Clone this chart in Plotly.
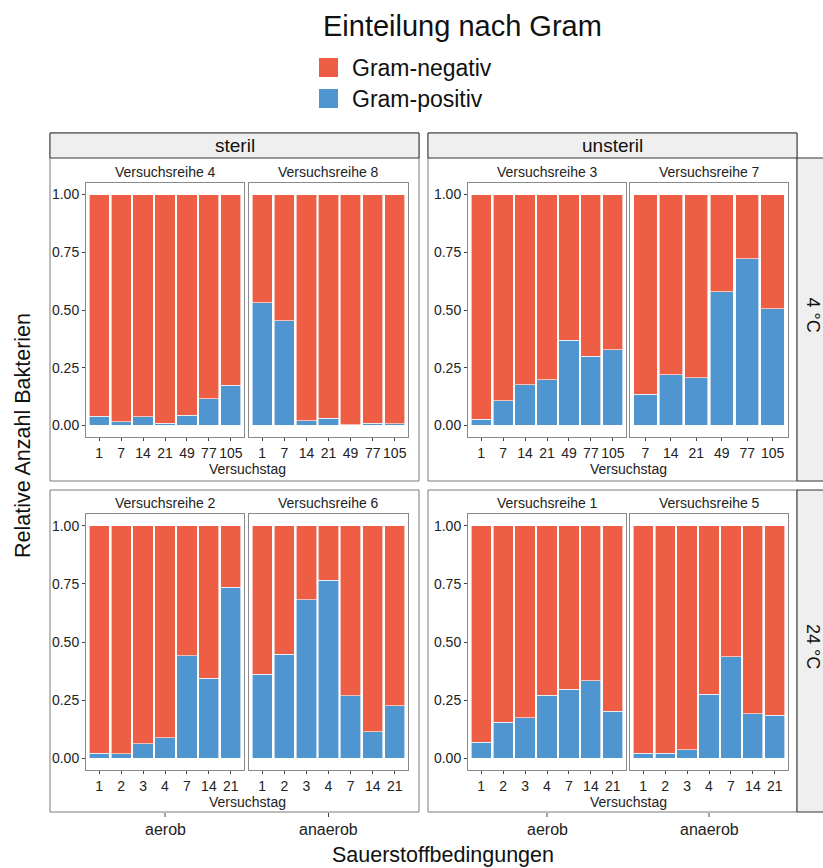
import plotly.graph_objects as go

W, H = 823, 868
RED = "#EE5E44"
BLUE = "#4F95CF"
FONT = "Liberation Sans, Arial, sans-serif"

# ---- data: fraction of Gram-positive bacteria per sampling day ----
days_r4 = ["1", "7", "14", "21", "49", "77", "105"]
pos_r4 = [0.040, 0.017, 0.037, 0.010, 0.044, 0.115, 0.175]
days_r8 = ["1", "7", "14", "21", "49", "77", "105"]
pos_r8 = [0.532, 0.454, 0.021, 0.032, 0.002, 0.010, 0.007]
days_r3 = ["1", "7", "14", "21", "49", "77", "105"]
pos_r3 = [0.026, 0.108, 0.177, 0.197, 0.368, 0.299, 0.328]
days_r7 = ["7", "14", "21", "49", "77", "105"]
pos_r7 = [0.135, 0.219, 0.207, 0.578, 0.721, 0.506]
days_r2 = ["1", "2", "3", "4", "7", "14", "21"]
pos_r2 = [0.021, 0.020, 0.062, 0.089, 0.440, 0.344, 0.735]
days_r6 = ["1", "2", "3", "4", "7", "14", "21"]
pos_r6 = [0.362, 0.448, 0.682, 0.765, 0.269, 0.115, 0.226]
days_r1 = ["1", "2", "3", "4", "7", "14", "21"]
pos_r1 = [0.069, 0.155, 0.175, 0.272, 0.298, 0.334, 0.202]
days_r5 = ["1", "2", "3", "4", "7", "14", "21"]
pos_r5 = [0.021, 0.021, 0.036, 0.275, 0.436, 0.191, 0.186]

panel_titles = ["Versuchsreihe 4", "Versuchsreihe 8", "Versuchsreihe 3", "Versuchsreihe 7",
                "Versuchsreihe 2", "Versuchsreihe 6", "Versuchsreihe 1", "Versuchsreihe 5"]
panel_days = [days_r4, days_r8, days_r3, days_r7, days_r2, days_r6, days_r1, days_r5]
panel_pos = [pos_r4, pos_r8, pos_r3, pos_r7, pos_r2, pos_r6, pos_r1, pos_r5]
y_ticks = [0, 0.25, 0.5, 0.75, 1.0]
y_ticktext = ["0.00", "0.25", "0.50", "0.75", "1.00"]
col_groups = ["steril", "unsteril"]
row_groups = ["4 °C", "24 °C"]
oxygen = ["aerob", "anaerob", "aerob", "anaerob"]
legend_title = "Einteilung nach Gram"
legend_names = ["Gram-negativ", "Gram-positiv"]
legend_colors = [RED, BLUE]

# ---- layout geometry (pixels) ----
col_px = [(86, 244), (249, 408), (468, 626), (630, 788)]
row_px = [(183, 437), (514, 770)]


def fx(p):
    return p / W


def fy(p):
    return 1 - p / H


fig = go.Figure()
layout = dict(
    width=W, height=H, margin=dict(l=0, r=0, t=0, b=0),
    paper_bgcolor="white", plot_bgcolor="white",
    barmode="stack", bargap=0.08,
    font=dict(family=FONT, color="#222"),
    showlegend=False,
)

annotations = []
shapes = []

for i in range(8):
    r, c = divmod(i, 4)
    n = i + 1
    xa = "x" if n == 1 else f"x{n}"
    ya = "y" if n == 1 else f"y{n}"
    days = panel_days[i]
    pos = panel_pos[i]
    neg = [1 - v for v in pos]
    fig.add_trace(go.Bar(x=days, y=pos, name="Gram-positiv",
                         marker=dict(color=BLUE, line=dict(color="white", width=0.6)),
                         xaxis=xa, yaxis=ya,
                         hovertemplate="%{x}: %{y:.2f}<extra>Gram-positiv</extra>"))
    fig.add_trace(go.Bar(x=days, y=neg, name="Gram-negativ",
                         marker=dict(color=RED, line=dict(color="white", width=0.6)),
                         xaxis=xa, yaxis=ya,
                         hovertemplate="%{x}: %{y:.2f}<extra>Gram-negativ</extra>"))
    x0, x1 = col_px[c]
    y0, y1 = row_px[r]
    xkey = "xaxis" if n == 1 else f"xaxis{n}"
    ykey = "yaxis" if n == 1 else f"yaxis{n}"
    layout[xkey] = dict(domain=[fx(x0), fx(x1)], anchor=ya, type="category",
                        range=[-0.6, len(days) - 0.4], showgrid=False, zeroline=False,
                        showline=True, mirror=True, linecolor="#8a8a8a", linewidth=1,
                        ticks="outside", ticklen=3, tickcolor="#444", tickangle=0,
                        tickfont=dict(size=14, color="#222"), fixedrange=True)
    layout[ykey] = dict(domain=[fy(y1), fy(y0)], anchor=xa, range=[-0.05, 1.05],
                        showgrid=False, zeroline=False,
                        showline=True, mirror=True, linecolor="#8a8a8a", linewidth=1,
                        tickvals=y_ticks, ticktext=y_ticktext,
                        ticks="outside" if c in (0, 2) else "", ticklen=3, tickcolor="#444",
                        showticklabels=c in (0, 2),
                        tickfont=dict(size=14, color="#222"), fixedrange=True)
    annotations.append(dict(text=panel_titles[i], x=fx((x0 + x1) / 2), y=fy(y0 - 11),
                            xref="paper", yref="paper", showarrow=False,
                            font=dict(size=14, color="#222"), xanchor="center", yanchor="middle"))

# outer boxes and strips
box_x = [(50, 419), (428, 797)]
box_y = [(133, 481), (490, 812)]
for c in range(2):
    bx0, bx1 = box_x[c]
    for r in range(2):
        by0, by1 = box_y[r]
        shapes.append(dict(type="rect", xref="paper", yref="paper", x0=fx(bx0), x1=fx(bx1),
                           y0=fy(by1), y1=fy(by0), line=dict(color="#7a7a7a", width=1),
                           fillcolor="rgba(0,0,0,0)", layer="below"))
    # column strip
    shapes.append(dict(type="rect", xref="paper", yref="paper", x0=fx(bx0), x1=fx(bx1),
                       y0=fy(158), y1=fy(133), line=dict(color="#333", width=1),
                       fillcolor="#EFEFEF", layer="below"))
    annotations.append(dict(text=col_groups[c], x=fx((bx0 + bx1) / 2), y=fy(145.5), xref="paper", yref="paper",
                            showarrow=False, font=dict(size=19, color="#111"), xanchor="center", yanchor="middle"))
    # Versuchstag labels
    for r, ty in enumerate([469, 802]):
        annotations.append(dict(text="Versuchstag", x=fx((col_px[2 * c][0] + col_px[2 * c + 1][1]) / 2), y=fy(ty),
                                xref="paper", yref="paper", showarrow=False,
                                font=dict(size=14, color="#222"), xanchor="center", yanchor="middle"))

# row strips
row_strip_y = [(158, 481), (490, 812)]
for r in range(2):
    ry0, ry1 = row_strip_y[r]
    shapes.append(dict(type="rect", xref="paper", yref="paper", x0=fx(797), x1=fx(826),
                       y0=fy(ry1), y1=fy(ry0), line=dict(color="#333", width=1),
                       fillcolor="#EFEFEF", layer="below"))
    annotations.append(dict(text=row_groups[r], x=fx(813), y=fy((ry0 + ry1) / 2 - 5), xref="paper", yref="paper",
                            showarrow=False, textangle=90, font=dict(size=18, color="#111"),
                            xanchor="center", yanchor="middle"))

# oxygen condition labels with small ticks
for c in range(4):
    cx = (col_px[c][0] + col_px[c][1]) / 2
    shapes.append(dict(type="line", xref="paper", yref="paper", x0=fx(cx), x1=fx(cx), y0=fy(813), y1=fy(817),
                       line=dict(color="#444", width=1)))
    annotations.append(dict(text=oxygen[c], x=fx(cx), y=fy(829), xref="paper", yref="paper", showarrow=False,
                            font=dict(size=16, color="#222"), xanchor="center", yanchor="middle"))

annotations.append(dict(text="Sauerstoffbedingungen", x=fx(443), y=fy(855), xref="paper", yref="paper",
                        showarrow=False, font=dict(size=21.5, color="#111"), xanchor="center", yanchor="middle"))
annotations.append(dict(text="Relative Anzahl Bakterien", x=fx(23), y=fy(436), xref="paper", yref="paper",
                        showarrow=False, textangle=-90, font=dict(size=21.5, color="#111"),
                        xanchor="center", yanchor="middle"))

# legend (drawn as shapes + text for matching key size)
annotations.append(dict(text=legend_title, x=fx(321), y=fy(26), xref="paper", yref="paper", showarrow=False,
                        font=dict(size=29, color="#111"), xanchor="left", yanchor="middle"))
for k, (nm, colr) in enumerate(zip(legend_names, legend_colors)):
    yc = 67.5 + k * 31
    shapes.append(dict(type="rect", xref="paper", yref="paper", x0=fx(319), x1=fx(338),
                       y0=fy(yc + 9.5), y1=fy(yc - 9.5), line=dict(width=0), fillcolor=colr))
    annotations.append(dict(text=nm, x=fx(350), y=fy(yc), xref="paper", yref="paper", showarrow=False,
                            font=dict(size=23, color="#111"), xanchor="left", yanchor="middle"))

layout["annotations"] = annotations
layout["shapes"] = shapes
fig.update_layout(**layout)
fig.write_html("out.html")
